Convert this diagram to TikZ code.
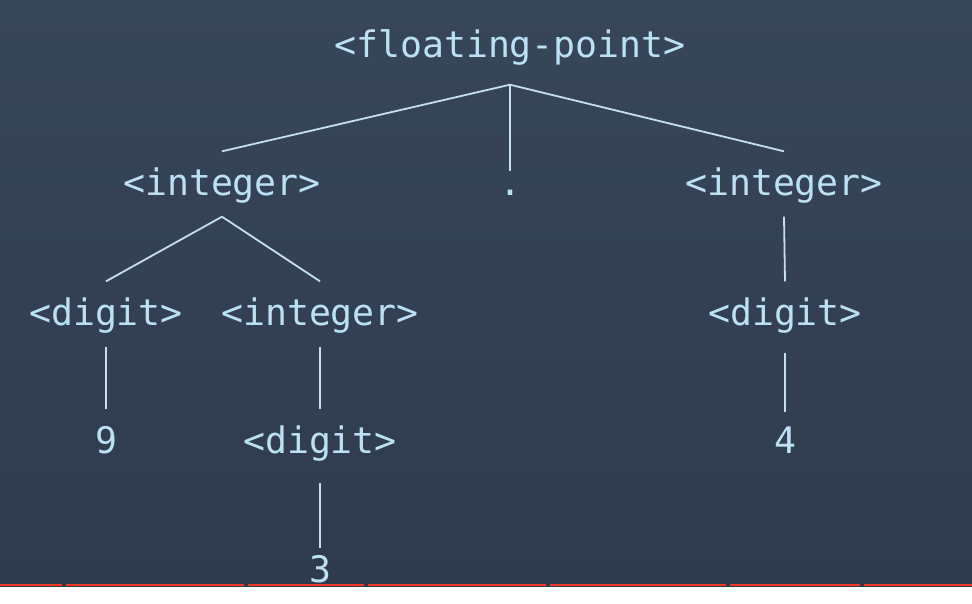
\documentclass[tikz,border=0pt]{standalone}
\usepackage{fontspec}
\newfontfamily\treefont{DejaVu Sans Mono}
\usetikzlibrary{positioning}
\definecolor{bgtop}{RGB}{56,70,90}
\definecolor{bgbot}{RGB}{47,59,77}
\definecolor{ink}{RGB}{188,224,244}
\definecolor{stem}{RGB}{196,224,240}
\definecolor{redrule}{RGB}{240,58,40}

\begin{document}
\begin{tikzpicture}[x=1pt, y=-1pt,
    sym/.style={anchor=base, text=ink, font=\treefont\fontsize{36.5}{40}\selectfont,
                text height=30pt, text depth=8pt, inner xsep=0pt, inner ysep=13.5pt},
    branch/.style={draw=stem, line width=1.8pt}]
    \fill[top color=bgtop, bottom color=bgbot] (0,0) rectangle (972,586);

    \node[sym, text depth=14pt]   (fp)    at (510,57)  {<floating-point>};
    \node[sym]                    (intL)  at (222,195) {<integer>};
    \node[sym, text height=10pt]  (dot)   at (510,195) {.};
    \node[sym]                    (intR)  at (784,195) {<integer>};
    \node[sym]                    (digL)  at (106,325) {<digit>};
    \node[sym]                    (intM)  at (320,325) {<integer>};
    \node[sym]                    (digR)  at (785,325) {<digit>};
    \node[sym]                    (nine)  at (106,453) {9};
    \node[sym]                    (digM)  at (320,453) {<digit>};
    \node[sym]                    (four)  at (785,453) {4};
    \node[sym]                    (three) at (320,582) {3};

    \draw[branch] (fp.south)   -- (intL.north);
    \draw[branch] (fp.south)   -- (dot.north);
    \draw[branch] (fp.south)   -- (intR.north);
    \draw[branch] (intL.south) -- (digL.north);
    \draw[branch] (intL.south) -- (intM.north);
    \draw[branch] (intR.south) -- (digR.north);
    \draw[branch] (digL.south) -- (nine.north);
    \draw[branch] (intM.south) -- (digM.north);
    \draw[branch, shorten <=6pt, shorten >=-3pt]  (digR.south) -- (four.north);
    \draw[branch, shorten <=8pt, shorten >=-10pt] (digM.south) -- (three.north);

    \fill[redrule] (0,583.5) rectangle (972,586);
    \foreach \gx in {62,244,364,546,726,860}
        \fill[bgbot] (\gx,583.5) rectangle ++(4,2.5);
\end{tikzpicture}
\end{document}
